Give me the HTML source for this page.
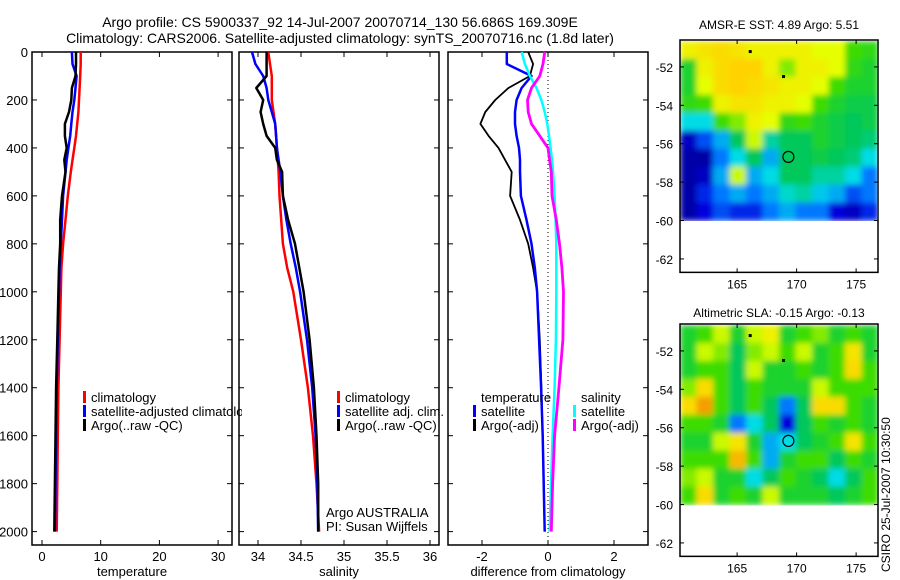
<!DOCTYPE html>
<html><head><meta charset="utf-8"><style>
body{margin:0;background:#fff;}
svg{display:block;font-family:"Liberation Sans",sans-serif;}
</style></head><body>
<svg id="chart" width="900" height="580" viewBox="0 0 900 580">
<defs>
<filter id="blur" x="0" y="0" width="1" height="1"><feGaussianBlur stdDeviation="3" edgeMode="duplicate"/></filter>
<clipPath id="clipm1"><rect x="680" y="41" width="197" height="180"/></clipPath>
<clipPath id="clipm2"><rect x="680" y="325" width="197" height="181"/></clipPath>
<clipPath id="clipp1"><rect x="32" y="45" width="210" height="500"/></clipPath>
<clipPath id="clipp2"><rect x="239" y="45" width="200" height="500"/></clipPath>
<clipPath id="clipp3"><rect x="448" y="45" width="200" height="500"/></clipPath>
</defs>
<text x="340" y="27" font-size="14" text-anchor="middle">Argo profile: CS 5900337_92 14-Jul-2007 20070714_130 56.686S 169.309E</text>
<text x="340" y="43" font-size="14" text-anchor="middle">Climatology: CARS2006. Satellite-adjusted climatology: synTS_20070716.nc (1.8d later)</text>
<g id="g"></g>
<text x="779" y="29" font-size="12" text-anchor="middle">AMSR-E SST: 4.89 Argo: 5.51</text>
<text x="779" y="317" font-size="12" text-anchor="middle">Altimetric SLA: -0.15 Argo: -0.13</text>
<text transform="translate(890,572) rotate(-90)" font-size="12">CSIRO 25-Jul-2007 10:30:50</text>
</svg>
<script>
const depths=[0,50,100,150,200,250,300,350,400,450,500,600,700,800,900,1000,1200,1400,1600,1800,2000];
const tempClim=[6.6,6.6,6.5,6.4,6.3,6.2,6.0,5.8,5.5,5.2,4.9,4.4,4.0,3.6,3.3,3.2,3.0,2.8,2.7,2.6,2.5];
const tempSat=[5.1,5.2,5.9,5.7,5.5,5.2,5.0,4.8,4.5,4.2,4.0,3.6,3.4,3.2,3.0,2.9,2.7,2.5,2.4,2.3,2.2];
const tempArgo=[5.8,5.8,5.7,5.1,5.0,4.6,3.9,3.9,4.2,3.8,4.0,3.4,3.1,3.1,2.9,2.8,2.6,2.4,2.3,2.2,2.1];
const salClim=[34.12,34.14,34.16,34.16,34.16,34.18,34.2,34.21,34.22,34.23,34.24,34.25,34.27,34.29,34.34,34.41,34.5,34.58,34.64,34.68,34.71];
const salSat=[33.93,33.97,34.06,34.1,34.12,34.16,34.2,34.21,34.22,34.24,34.26,34.29,34.33,34.38,34.44,34.49,34.57,34.63,34.67,34.69,34.7];
const salArgo=[34.1,34.1,34.1,33.98,34.06,34.03,34.06,34.1,34.2,34.22,34.28,34.29,34.35,34.43,34.48,34.53,34.6,34.65,34.68,34.7,34.7];
const dTempSat=[-1.25,-1.25,-0.5,-0.8,-0.95,-1.0,-1.0,-0.95,-0.88,-0.85,-0.85,-0.82,-0.65,-0.5,-0.4,-0.33,-0.27,-0.21,-0.16,-0.13,-0.1];
const dTempArgo=[-0.6,-0.45,-0.55,-1.2,-1.6,-1.9,-2.05,-1.8,-1.5,-1.3,-1.1,-1.15,-0.85,-0.6,-0.45,-0.33,-0.25,-0.2,-0.16,-0.13,-0.1];
const dSalSat=[-0.8,-0.7,-0.55,-0.35,-0.2,-0.1,-0.02,0.03,0.08,0.12,0.15,0.2,0.23,0.25,0.25,0.25,0.24,0.2,0.14,0.09,0.05];
const dSalArgo=[-0.1,-0.15,-0.25,-0.5,-0.62,-0.6,-0.5,-0.25,0.0,0.05,0.1,0.12,0.25,0.35,0.42,0.47,0.45,0.33,0.2,0.14,0.1];
const depthTicks=[0,200,400,600,800,1000,1200,1400,1600,1800,2000];
const tempTicks=[0,10,20,30];
const salTicks=[34,34.5,35,35.5,36];
const diffTicks=[-2,0,2];
const latTicks=[-52,-54,-56,-58,-60,-62];
const lonTicks=[165,170,175];
const sstGrid=[
[.75,.78,.8,.78,.75,.75,.75,.75,.72,.72,.6,.58],
[.55,.75,.8,.82,.82,.75,.65,.75,.75,.72,.58,.55],
[.55,.72,.8,.82,.8,.78,.75,.75,.72,.6,.55,.55],
[.58,.6,.75,.78,.78,.75,.75,.72,.6,.55,.52,.52],
[.4,.4,.6,.65,.75,.72,.58,.6,.55,.52,.5,.52],
[.1,.25,.35,.5,.7,.45,.5,.5,.55,.52,.5,.48],
[.05,.05,.3,.4,.5,.35,.5,.5,.52,.5,.48,.4],
[.05,.1,.35,.7,.35,.4,.5,.5,.45,.45,.4,.3],
[.05,.2,.3,.35,.3,.35,.42,.45,.38,.35,.25,.3],
[.05,.15,.25,.2,.2,.3,.35,.3,.3,.15,.1,.2]];
const slaGrid=[
[.55,.6,.7,.55,.7,.75,.55,.6,.65,.55,.6,.55],
[.55,.7,.65,.5,.65,.7,.6,.7,.55,.6,.78,.55],
[.55,.6,.6,.5,.7,.55,.55,.6,.55,.6,.8,.6],
[.65,.8,.6,.5,.6,.55,.55,.55,.7,.6,.6,.6],
[.8,.88,.6,.5,.6,.5,.3,.5,.8,.8,.6,.55],
[.6,.6,.55,.3,.4,.5,.15,.5,.6,.55,.6,.55],
[.55,.55,.7,.78,.55,.35,.4,.5,.55,.6,.78,.6],
[.6,.6,.6,.85,.6,.35,.55,.6,.6,.5,.6,.55],
[.65,.7,.55,.55,.4,.5,.6,.55,.5,.4,.5,.6],
[.6,.8,.55,.6,.55,.7,.55,.55,.55,.5,.55,.6]];
const floatLon=169.309, floatLat=-56.686;
const otherLon=[166.1,168.9], otherLat=[-51.2,-52.5];

const NS='http://www.w3.org/2000/svg';
const g=document.getElementById('g');
function mk(t,a,p){const e=document.createElementNS(NS,t);for(const k in a)e.setAttribute(k,a[k]);(p||g).appendChild(e);return e;}
const yD=d=>52+d*0.2398;
const panels=[
 {x0:32,x1:232,sx:v=>42+v*5.87,ticks:tempTicks,label:'temperature',clip:'clipp1',name:'temperature-panel'},
 {x0:239,x1:439,sx:v=>258+(v-34)*86,ticks:salTicks,label:'salinity',clip:'clipp2',name:'salinity-panel'},
 {x0:448,x1:648,sx:v=>548+v*33,ticks:diffTicks,label:'difference from climatology',clip:'clipp3',name:'difference-panel'}];
const pTop=52,pBot=545;
panels.forEach((p,i)=>{
 const pg=mk('g',{});
 
 
 p.g=pg;
 const fr=mk('rect',{x:p.x0,y:pTop,width:p.x1-p.x0,height:pBot-pTop,fill:'none',stroke:'#000','stroke-width':1.5},pg);
 
 
 depthTicks.forEach(d=>{
  const y=yD(d);
  mk('line',{x1:p.x0,x2:p.x0+5,y1:y,y2:y,stroke:'#000'},pg);
  mk('line',{x1:p.x1,x2:p.x1-5,y1:y,y2:y,stroke:'#000'},pg);
  if(i===0){const t=mk('text',{x:28,y:y+5,'font-size':13,'text-anchor':'end'},pg);t.textContent=d;
   
   }
 });
 p.ticks.forEach(v=>{
  const x=p.sx(v);
  mk('line',{x1:x,x2:x,y1:pBot,y2:pBot-5,stroke:'#000'},pg);
  mk('line',{x1:x,x2:x,y1:pTop,y2:pTop+5,stroke:'#000'},pg);
  const t=mk('text',{x:x,y:561,'font-size':13,'text-anchor':'middle'},pg);t.textContent=v;
  
  
 });
 const xl=mk('text',{x:(p.x0+p.x1)/2,y:576,'font-size':13,'text-anchor':'middle'},pg);xl.textContent=p.label;
 
 
});
function line(p,vals,col,w,name){
 const pts=vals.map((v,i)=>p.sx(v).toFixed(1)+','+yD(depths[i]).toFixed(1)).join(' ');
 const e=mk('polyline',{points:pts,fill:'none',stroke:col,'stroke-width':w,'clip-path':'url(#'+p.clip+')','stroke-linejoin':'round'},p.g);
 
 
}
const zl=mk('line',{x1:panels[2].sx(0),x2:panels[2].sx(0),y1:pTop,y2:pBot,stroke:'#000','stroke-dasharray':'1,3'},panels[2].g);


line(panels[0],tempClim,'#f00',2.5,'temp-climatology-line');
line(panels[0],tempSat,'#00f',2.5,'temp-satellite-line');
line(panels[0],tempArgo,'#000',2.5,'temp-argo-line');
line(panels[1],salClim,'#f00',2.5,'sal-climatology-line');
line(panels[1],salSat,'#00f',2.5,'sal-satellite-line');
line(panels[1],salArgo,'#000',2.5,'sal-argo-line');
line(panels[2],dTempArgo,'#000',1.8,'diff-temp-argo-line');
line(panels[2],dTempSat,'#00f',2.5,'diff-temp-satellite-line');
line(panels[2],dSalSat,'#0ff',2.5,'diff-sal-satellite-line');
line(panels[2],dSalArgo,'#f0f',2.8,'diff-sal-argo-line');
function legend(x,y,col,txt,name,clip){
 const lg=mk('g',{});
 
 
 if(col)mk('rect',{x:x,y:y-11,width:3,height:12,fill:col},lg);
 const t=mk('text',{x:x+8,y:y,'font-size':13},lg);t.textContent=txt;
 if(clip)lg.setAttribute('clip-path','url(#'+clip+')');
}
legend(83,402,'#f00','climatology','legend-climatology');
legend(83,416,'#00f','satellite-adjusted climatology','legend-satellite-adjusted','clipp1');
legend(83,430,'#000','Argo(..raw -QC)','legend-argo');
legend(337,402,'#f00','climatology','legend-sal-climatology');
legend(337,416,'#00f','satellite adj. clim.','legend-sal-satellite');
legend(337,430,'#000','Argo(..raw -QC)','legend-sal-argo');
legend(473,402,null,'temperature','legend-temperature-heading');
legend(473,416,'#00f','satellite','legend-diff-temp-satellite');
legend(473,430,'#000','Argo(-adj)','legend-diff-temp-argo');
legend(573,402,null,'salinity','legend-salinity-heading');
legend(573,416,'#0ff','satellite','legend-diff-sal-satellite');
legend(573,430,'#f0f','Argo(-adj)','legend-diff-sal-argo');
const a1=mk('text',{x:326,y:517,'font-size':13});a1.textContent='Argo AUSTRALIA';


const a2=mk('text',{x:326,y:531,'font-size':13});a2.textContent='PI: Susan Wijffels';


function jet(v){
 const st=[[0,[0,0,140]],[0.15,[0,0,220]],[0.3,[0,120,255]],[0.4,[0,220,230]],[0.5,[0,200,90]],[0.6,[60,220,0]],[0.72,[230,255,0]],[0.82,[255,210,0]],[0.9,[240,140,0]],[1,[190,60,0]]];
 for(let i=1;i<st.length;i++){if(v<=st[i][0]){const a=st[i-1],b=st[i],t=(v-a[0])/(b[0]-a[0]);return 'rgb('+a[1].map((c,k)=>Math.round(c+(b[1][k]-c)*t)).join(',')+')';}}
 return 'rgb(190,60,0)';
}
function drawMap(y0,grid,clip,name){
 const mg=mk('g',{});
 
 
 const lon=v=>680+(v-160.2)*11.9, lat=v=>y0+(-50.65-v)*19.2;
 const x0=680,x1=878,yt=y0,yb=lat(-60);
 const hg=mk('g',{'clip-path':'url(#'+clip+')'},mg);
 const fg=mk('g',{filter:'url(#blur)'},hg);
 const rows=grid.length,cols=grid[0].length,cw=(x1-x0)/cols,ch=(yb-yt)/rows;
 grid.forEach((r,ri)=>r.forEach((v,ci)=>{
  const c=mk('rect',{x:x0+ci*cw,y:yt+ri*ch,width:cw+0.5,height:ch+0.5,fill:jet(v)},fg);
  
  
 }));
 const yb2=lat(-62.7);
 const fr=mk('rect',{x:x0,y:yt-1,width:x1-x0,height:yb2-yt+1,fill:'none',stroke:'#000','stroke-width':1.5},mg);
 
 
 latTicks.forEach(v=>{const y=lat(v);
  mk('line',{x1:x0,x2:x0+4,y1:y,y2:y,stroke:'#000'},mg);mk('line',{x1:x1,x2:x1-4,y1:y,y2:y,stroke:'#000'},mg);
  const t=mk('text',{x:673,y:y+5,'font-size':12,'text-anchor':'end'},mg);t.textContent=v;
  
  });
 lonTicks.forEach(v=>{const x=lon(v);
  mk('line',{x1:x,x2:x,y1:yb2,y2:yb2-4,stroke:'#000'},mg);mk('line',{x1:x,x2:x,y1:yt-1,y2:yt+3,stroke:'#000'},mg);
  const t=mk('text',{x:x,y:yb2+16,'font-size':12,'text-anchor':'middle'},mg);t.textContent=v;
  
  });
 otherLon.forEach((v,i)=>{const d=mk('rect',{x:lon(v)-1.5,y:lat(otherLat[i])-1.5,width:3,height:3,fill:'#000'},mg);
  
  });
 const c=mk('circle',{cx:lon(floatLon),cy:lat(floatLat),r:5.5,fill:'none',stroke:'#000','stroke-width':1.2},mg);
 
 
}
drawMap(41,sstGrid,'clipm1','sst-map');
drawMap(325,slaGrid,'clipm2','sla-map');
</script>
</body></html>
